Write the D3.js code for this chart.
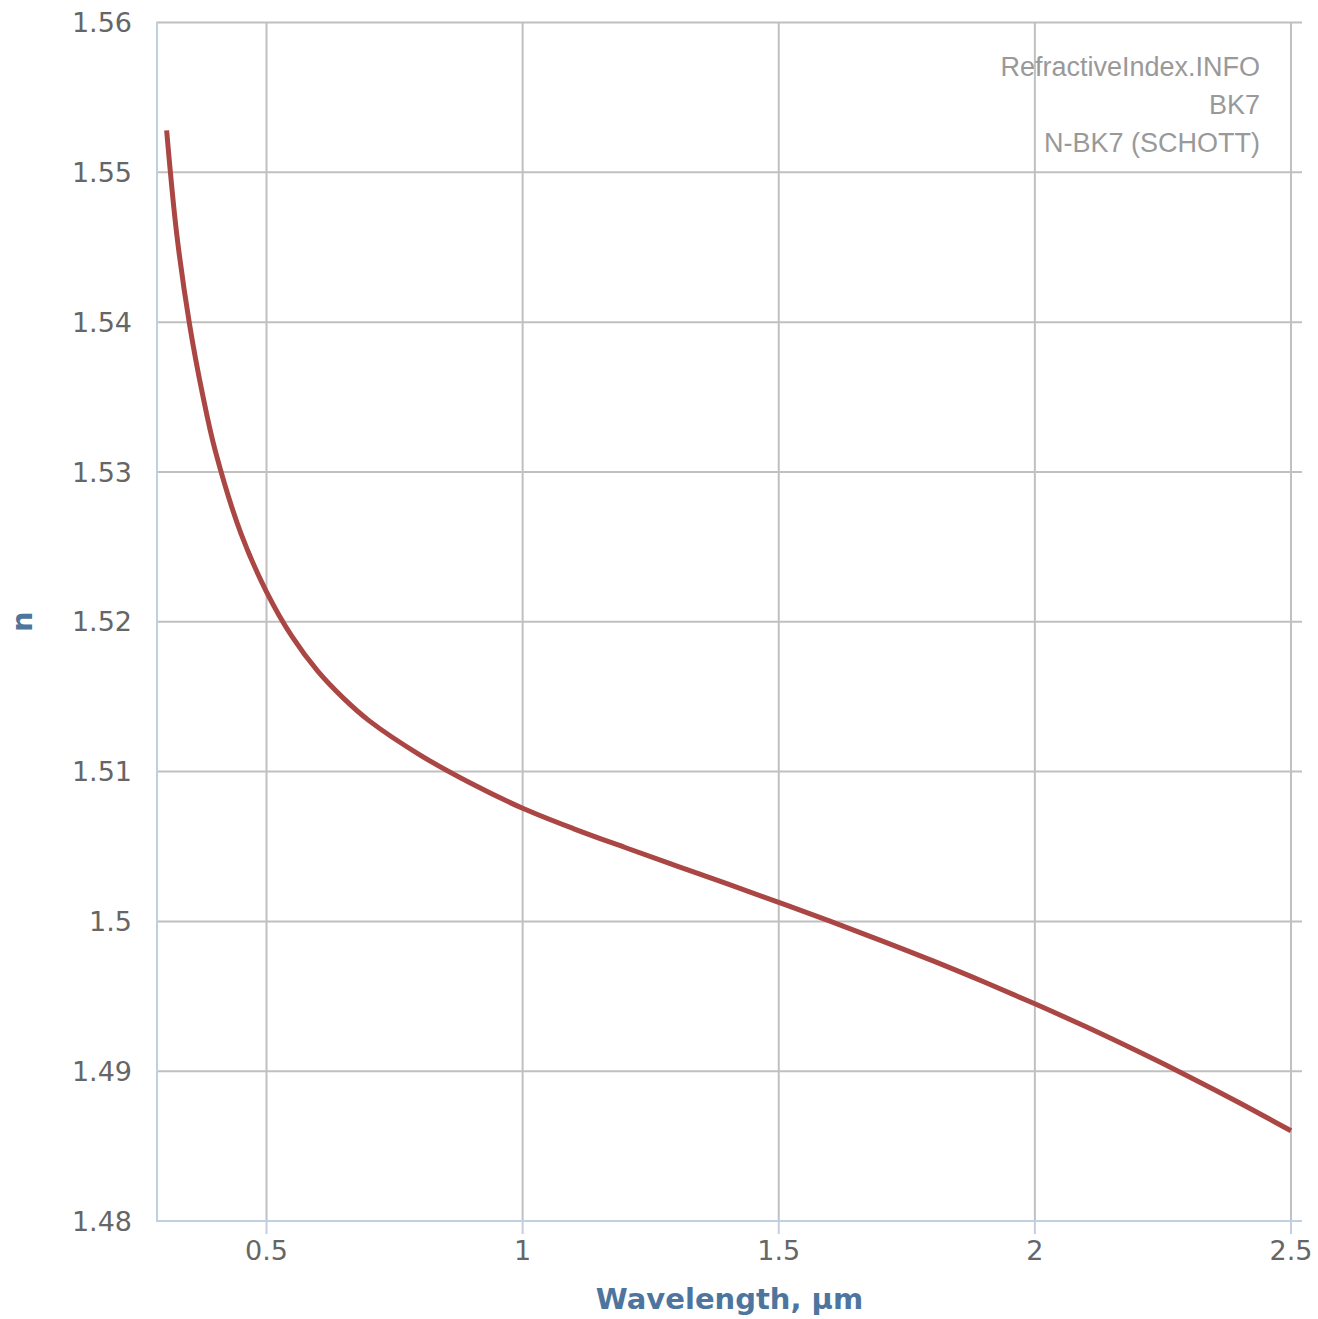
<!DOCTYPE html>
<meta charset="utf-8">
<style>
    body { margin: 0; background: #fff; }
    .grid line { stroke: #c0c0c0; stroke-width: 2px; }
    .axis-line { stroke: #c0d0e0; stroke-width: 2px; }
    .tick-label { fill: #666; font-size: 27px; font-family: "DejaVu Sans", sans-serif; }
    .axis-title { fill: #4d759e; font-size: 29px; font-weight: bold; font-family: "DejaVu Sans", sans-serif; }
    .credit text { fill: #999; font-size: 27px; font-family: "Liberation Sans", Arial, sans-serif; }
</style>
<svg width="1318" height="1319"></svg>
<script src="https://d3js.org/d3.v7.min.js"></script>
<script>

    // wavelength in µm and refractive index n
    var wavelength = [0.305, 0.325, 0.35, 0.375, 0.4, 0.45, 0.5, 0.55, 0.6, 0.65, 0.7, 0.8, 0.9, 1.0,
        1.1, 1.2, 1.3, 1.4, 1.5, 1.6, 1.7, 1.8, 1.9, 2.0, 2.1, 2.2, 2.3, 2.4, 2.5];
    var nValues = [1.5528, 1.5458, 1.5398, 1.5352, 1.5314, 1.5259, 1.5220, 1.5190, 1.5167, 1.5149, 1.5134, 1.5111, 1.5092, 1.50755,
        1.50618, 1.50493, 1.50371, 1.50250, 1.50127, 1.50002, 1.49872, 1.49738, 1.49597, 1.49450, 1.49296, 1.49134, 1.48965, 1.48788, 1.48602];

    var xTicks = [0.5, 1, 1.5, 2, 2.5];
    var yTicks = [1.48, 1.49, 1.5, 1.51, 1.52, 1.53, 1.54, 1.55, 1.56];
    var creditLines = ["RefractiveIndex.INFO", "BK7", "N-BK7 (SCHOTT)"];

    var svg = d3.select("svg");

    var plotLeft = 157, plotRight = 1302, plotTop = 22.5, plotBottom = 1221;

    var x = d3.scaleLinear().domain([0.2862, 2.5215]).range([plotLeft, plotRight]);
    var y = d3.scaleLinear().domain([1.48, 1.56]).range([plotBottom, plotTop]);

    var grid = svg.append("g").attr("class", "grid");

    grid.selectAll("line.h")
            .data(yTicks.slice(1))
            .enter().append("line")
            .attr("class", "h")
            .attr("x1", plotLeft).attr("x2", plotRight)
            .attr("y1", function(d) { return y(d); })
            .attr("y2", function(d) { return y(d); });

    grid.selectAll("line.v")
            .data(xTicks)
            .enter().append("line")
            .attr("class", "v")
            .attr("x1", function(d) { return x(d); })
            .attr("x2", function(d) { return x(d); })
            .attr("y1", plotTop).attr("y2", plotBottom);

    // axis lines and x tick marks
    svg.append("line").attr("class", "axis-line")
            .attr("x1", plotLeft).attr("x2", plotLeft).attr("y1", plotTop - 1).attr("y2", plotBottom);
    svg.append("line").attr("class", "axis-line")
            .attr("x1", plotLeft - 1).attr("x2", plotRight).attr("y1", plotBottom).attr("y2", plotBottom);

    svg.selectAll("line.xtick")
            .data(xTicks)
            .enter().append("line")
            .attr("class", "axis-line xtick")
            .attr("x1", function(d) { return x(d); })
            .attr("x2", function(d) { return x(d); })
            .attr("y1", plotBottom).attr("y2", plotBottom + 13);

    svg.selectAll("text.xlabel")
            .data(xTicks)
            .enter().append("text")
            .attr("class", "tick-label xlabel")
            .attr("x", function(d) { return x(d); })
            .attr("y", plotBottom + 39)
            .attr("text-anchor", "middle")
            .text(function(d) { return d3.format("")(d); });

    svg.selectAll("text.ylabel")
            .data(yTicks)
            .enter().append("text")
            .attr("class", "tick-label ylabel")
            .attr("x", 132)
            .attr("y", function(d) { return y(d); })
            .attr("dy", "0.36em")
            .attr("text-anchor", "end")
            .text(function(d) { return d3.format("")(+d.toFixed(2)); });

    // the dispersion curve
    var points = wavelength.map(function(w, i) { return [w, nValues[i]]; });

    var line = d3.line()
            .x(function(d) { return x(d[0]); })
            .y(function(d) { return y(d[1]); })
            .curve(d3.curveCatmullRom.alpha(0.5));

    svg.append("path")
            .datum(points)
            .attr("fill", "none")
            .attr("stroke", "#aa4643")
            .attr("stroke-width", 5)
            .attr("stroke-linejoin", "round")
            .attr("d", line);

    // credits in the top right corner
    svg.append("g").attr("class", "credit")
            .selectAll("text")
            .data(creditLines)
            .enter().append("text")
            .attr("x", 1260)
            .attr("y", function(d, i) { return 76 + i * 38; })
            .attr("text-anchor", "end")
            .text(function(d) { return d; });

    svg.append("text")
            .attr("class", "axis-title")
            .attr("x", (plotLeft + plotRight) / 2)
            .attr("y", 1309)
            .attr("text-anchor", "middle")
            .text("Wavelength, µm");

    svg.append("text")
            .attr("class", "axis-title")
            .attr("transform", "translate(32," + (plotTop + plotBottom) / 2 + ") rotate(-90)")
            .attr("text-anchor", "middle")
            .text("n");

</script>
